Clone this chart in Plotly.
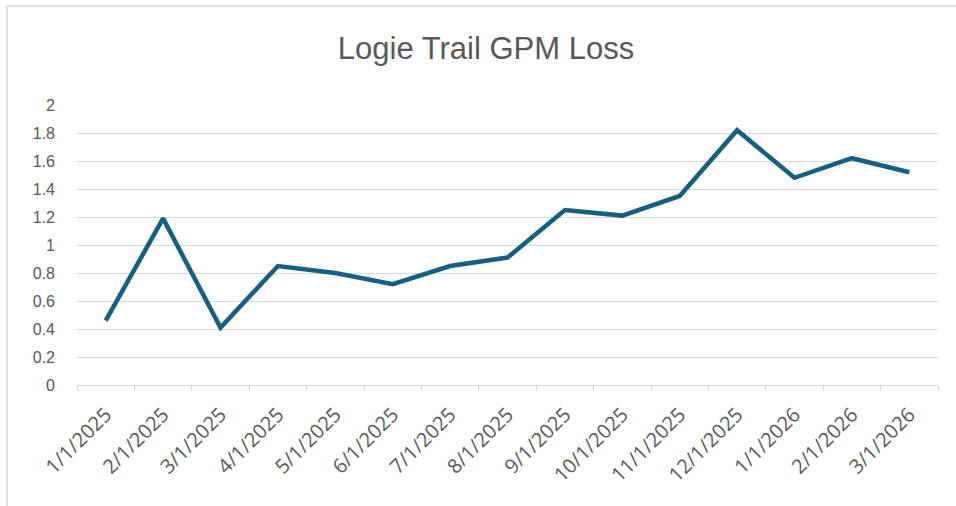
import plotly.graph_objects as go

months = ["1/1/2025", "2/1/2025", "3/1/2025", "4/1/2025", "5/1/2025", "6/1/2025",
          "7/1/2025", "8/1/2025", "9/1/2025", "10/1/2025", "11/1/2025", "12/1/2025",
          "1/1/2026", "2/1/2026", "3/1/2026"]
gpm_loss = [0.46, 1.19, 0.41, 0.85, 0.80, 0.72, 0.85, 0.91, 1.25, 1.21, 1.35, 1.82,
            1.48, 1.62, 1.52]
y_ticks = [0, 0.2, 0.4, 0.6, 0.8, 1, 1.2, 1.4, 1.6, 1.8, 2]
y_tick_labels = ["0", "0.2", "0.4", "0.6", "0.8", "1", "1.2", "1.4", "1.6", "1.8", "2"]

W, H = 956, 506
L, R, T, B = 77, 18, 105, 121
pw, ph = W - L - R, H - T - B

fig = go.Figure()
fig.add_trace(go.Scatter(
    x=months, y=gpm_loss, mode="lines",
    line=dict(color="#156082", width=4.5),
    hoverinfo="x+y", showlegend=False,
))

grey_text = "#595959"
fig.update_layout(
    width=W, height=H,
    margin=dict(l=L, r=R, t=T, b=B),
    paper_bgcolor="white", plot_bgcolor="white",
    font=dict(family="Liberation Sans, Arial, sans-serif", color=grey_text, size=13),
    title=dict(text="Logie Trail GPM Loss", x=486 / W, xref="container", xanchor="center",
               y=1 - 48 / H, yref="container", yanchor="middle",
               font=dict(size=31, color=grey_text, family="Liberation Sans, sans-serif")),
    xaxis=dict(
        type="category", tickangle=-45, tickson="boundaries",
        ticks="outside", ticklen=5, tickcolor="#d9d9d9", tickwidth=1,
        showline=True, linecolor="#d9d9d9", linewidth=1,
        showgrid=False, tickfont=dict(size=20, color=grey_text, family="Open Sans, sans-serif"),
        ticklabelstandoff=9,
        range=[-0.5, len(months) - 0.5],
    ),
    yaxis=dict(
        range=[0, 2], tickvals=y_ticks, ticktext=y_tick_labels,
        showgrid=True, gridcolor="#d9d9d9", gridwidth=1,
        zeroline=False, showline=False, ticks="",
        tickfont=dict(size=16, color=grey_text, family="Liberation Sans, sans-serif"),
        ticklabelstandoff=21,
    ),
    shapes=[dict(
        type="rect", xref="paper", yref="paper",
        x0=(7 - L) / pw, x1=(W + 5 - L) / pw,
        y0=(H - B - (H + 5)) / ph, y1=1 + (T - 6) / ph,
        line=dict(color="#d9d9d9", width=1.5), fillcolor="rgba(0,0,0,0)", layer="below",
    )],
)

fig.write_html("out.html", config={"displayModeBar": False},
               post_script="document.body.style.margin='0';document.body.style.overflow='hidden';")
